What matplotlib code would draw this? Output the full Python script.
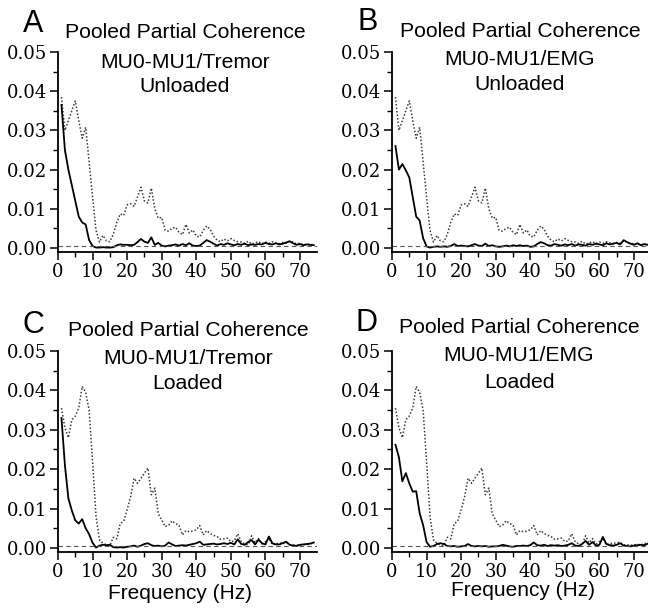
import matplotlib
matplotlib.use('Agg')
import matplotlib.pyplot as plt
from matplotlib.ticker import MultipleLocator, FormatStrFormatter
import numpy as np

# frequency bins (Hz)
freq = np.arange(1, 75)

# pooled coherence MU0-MU1 (dotted), values x 1e-3
coh_unloaded = [38.5, 30.0, 32.5, 35.0, 37.5, 32.5, 28.0, 30.8, 22.0, 13.0,
                4.5, 1.5, 3.2, 1.8, 1.6, 3.5, 6.5, 8.7, 8.3, 11.0,
                11.3, 10.6, 13.0, 15.5, 12.0, 11.5, 15.3, 10.0, 7.6, 7.8,
                4.5, 4.3, 5.0, 5.3, 4.0, 3.4, 6.0, 3.8, 4.6, 3.0,
                2.8, 4.5, 5.6, 4.8, 3.0, 2.0, 1.6, 2.3, 1.8, 2.4,
                1.9, 1.6, 1.5, 1.2, 1.7, 1.0, 1.3, 1.6, 1.1, 1.5,
                1.2, 1.6, 1.3, 1.1, 1.4, 1.2, 1.8, 1.5, 1.0, 1.2,
                0.8, 1.0, 0.8, 0.9]
coh_loaded = [35.5, 30.5, 28.0, 32.5, 33.5, 35.5, 41.0, 39.5, 35.0, 22.0,
              8.0, 2.0, 1.2, 0.8, 0.6, 2.7, 2.3, 6.2, 6.8, 9.7,
              13.0, 17.7, 16.4, 17.7, 19.0, 20.3, 13.5, 15.2, 8.7, 7.1,
              5.4, 5.8, 6.9, 6.2, 5.8, 3.3, 4.4, 4.1, 4.3, 4.6,
              5.7, 3.3, 4.4, 3.7, 3.2, 2.9, 2.2, 2.3, 2.5, 1.6,
              1.8, 3.6, 1.6, 1.0, 0.8, 3.1, 1.3, 2.4, 1.0, 1.6,
              2.5, 0.8, 1.1, 1.2, 1.3, 1.4, 0.8, 0.8, 0.7, 0.8,
              0.9, 0.8, 1.1, 1.2]

# partial coherence (solid), values x 1e-3
pc_tremor_unloaded = [36.5, 25.0, 20.0, 16.0, 12.0, 8.0, 6.5, 6.0, 2.0, 0.5,
                      0.1, 0.1, 0.2, 0.1, 0.1, 0.2, 0.7, 0.9, 0.8, 0.8,
                      0.7, 0.8, 1.5, 2.3, 1.6, 1.3, 2.7, 0.8, 1.3, 0.6,
                      0.4, 0.6, 0.7, 0.9, 0.6, 1.0, 0.7, 1.2, 0.6, 0.5,
                      0.6, 1.3, 2.0, 1.6, 1.1, 0.6, 1.0, 0.8, 1.2, 0.9,
                      0.7, 1.0, 0.8, 1.1, 0.7, 0.9, 0.8, 1.0, 0.9, 1.3,
                      1.0, 0.9, 1.2, 0.9, 1.1, 1.4, 1.7, 1.2, 0.8, 1.0,
                      0.7, 0.9, 0.8, 0.7]
pc_emg_unloaded = [26.0, 20.0, 21.4, 19.8, 18.0, 13.0, 8.0, 7.0, 2.5, 0.4,
                   0.1, 0.3, 0.4, 0.3, 0.4, 0.3, 0.5, 1.0, 0.5, 0.6,
                   0.5, 0.4, 0.7, 1.0, 0.6, 0.5, 1.1, 0.5, 0.7, 0.4,
                   0.3, 0.4, 0.6, 0.4, 0.7, 0.5, 0.7, 0.5, 0.6, 0.3,
                   0.4, 1.0, 1.5, 1.2, 0.7, 0.6, 1.0, 0.8, 0.6, 0.9,
                   0.7, 1.0, 0.6, 0.9, 0.8, 0.6, 1.0, 0.8, 1.1, 0.9,
                   0.7, 1.2, 0.9, 1.1, 1.3, 0.9, 2.0, 1.5, 1.1, 0.8,
                   1.2, 0.7, 1.0, 0.8]
pc_tremor_loaded = [33.0, 21.0, 12.6, 9.5, 7.0, 6.2, 7.3, 5.0, 3.5, 1.3,
                    0.1, 0.6, 0.8, 0.7, 0.8, 0.2, 0.1, 0.2, 0.1, 0.3,
                    0.4, 0.6, 0.3, 0.6, 1.0, 1.2, 0.7, 0.5, 0.6, 0.4,
                    0.6, 1.4, 0.9, 0.5, 0.6, 0.7, 0.6, 0.8, 1.0, 1.2,
                    1.6, 0.8, 0.9, 1.0, 1.1, 0.9, 1.0, 1.2, 1.0, 1.3,
                    0.9, 2.2, 1.0, 0.8, 1.5, 2.0, 0.9, 2.1, 1.2, 0.9,
                    2.9, 1.2, 0.9, 0.9, 1.2, 1.6, 0.8, 0.6, 0.5, 0.8,
                    0.9, 1.0, 1.1, 1.4]
pc_emg_loaded = [26.2, 23.0, 16.9, 19.0, 16.4, 14.3, 14.4, 8.8, 5.8, 1.5,
                 0.3, 0.5, 1.0, 1.2, 1.0, 0.5, 0.4, 0.5, 0.3, 0.4,
                 0.5, 1.0, 0.5, 0.4, 0.5, 0.4, 0.5, 0.3, 0.4, 0.4,
                 0.5, 0.8, 0.6, 0.4, 0.3, 0.5, 0.5, 0.6, 0.5, 0.7,
                 1.4, 0.7, 0.6, 0.8, 0.5, 0.7, 0.6, 0.7, 0.5, 0.6,
                 0.8, 1.2, 0.6, 0.5, 1.0, 1.8, 0.8, 1.5, 0.6, 0.8,
                 2.8, 1.0, 0.7, 0.6, 0.8, 1.2, 0.6, 0.5, 0.4, 0.6,
                 0.7, 0.8, 0.7, 1.1]

conf_level = 0.0004

letters = ['A', 'B', 'C', 'D']
subtitles = ['MU0-MU1/Tremor', 'MU0-MU1/EMG', 'MU0-MU1/Tremor', 'MU0-MU1/EMG']
conditions = ['Unloaded', 'Unloaded', 'Loaded', 'Loaded']

W, H = 648, 612
fig = plt.figure(figsize=(W / 100, H / 100), dpi=100)

def px(x, y):
    return x / W, 1 - y / H

# axes boxes in pixels: left, top(0.05), bottom
boxes = [(58, 52, 251.5), (392, 52, 251.5), (58, 351, 551.5), (392, 351, 551.5)]
ax_w = 258.6
# text positions: letter (x, baseline), title center x, baselines of 3 lines
letter_pos = [(33, 32), (368, 30), (33, 333), (367, 331)]
title_x = [185, 520, 188, 519]
title_y = [(38, 68, 92), (37, 65, 90), (336, 364, 389), (333, 361, 388)]

solids = [pc_tremor_unloaded, pc_emg_unloaded, pc_tremor_loaded, pc_emg_loaded]
dotteds = [coh_unloaded, coh_unloaded, coh_loaded, coh_loaded]

serif = 'DejaVu Serif'
sans = 'Liberation Sans'

for i in range(4):
    left, top, bottom = boxes[i]
    ax = fig.add_axes([left / W, 1 - bottom / H, ax_w / W, (bottom - top) / H])
    ax.plot(freq, np.array(dotteds[i]) / 1000, ls=(0, (1, 1.3)), color='#3a3a3a', lw=1.1)
    ax.plot(freq, np.array(solids[i]) / 1000, ls='-', color='black', lw=1.3)
    ax.axhline(conf_level, color='#555555', ls=(0, (4, 3)), lw=0.8)
    ax.set_xlim(0, 74.8)
    ax.set_ylim(-0.0009, 0.05)
    for s in ['top', 'right']:
        ax.spines[s].set_visible(False)
    for s in ['left', 'bottom']:
        ax.spines[s].set_linewidth(1.3)
    ax.xaxis.set_major_locator(MultipleLocator(10))
    ax.xaxis.set_minor_locator(MultipleLocator(5))
    ax.yaxis.set_major_locator(MultipleLocator(0.01))
    ax.yaxis.set_minor_locator(MultipleLocator(0.005))
    ax.yaxis.set_major_formatter(FormatStrFormatter('%.2f'))
    ax.tick_params(which='major', direction='out', length=6, width=1.1, pad=2)
    ax.tick_params(which='minor', direction='out', length=3.5, width=1.0)
    for lab in ax.get_xticklabels() + ax.get_yticklabels():
        lab.set_fontfamily(serif)
        lab.set_fontsize(13)

    lx, ly = letter_pos[i]
    fig.text(*px(lx, ly), letters[i], fontsize=22, family=sans,
             ha='center', va='baseline')
    tx = title_x[i]
    for txt, ty in zip(['Pooled Partial Coherence', subtitles[i], conditions[i]],
                       title_y[i]):
        fig.text(*px(tx, ty), txt, fontsize=15.2, family=sans,
                 ha='center', va='baseline')

fig.text(*px(180, 599), 'Frequency (Hz)', fontsize=15, family=sans,
         ha='center', va='baseline')
fig.text(*px(523, 596), 'Frequency (Hz)', fontsize=15, family=sans,
         ha='center', va='baseline')

fig.savefig('out.png', dpi=100)
